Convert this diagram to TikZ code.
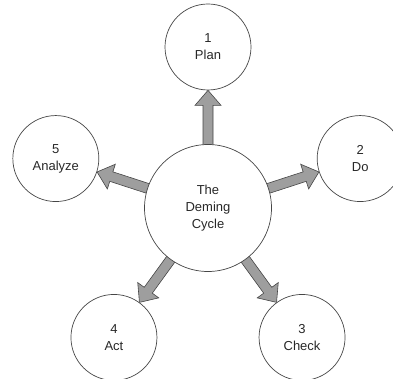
\documentclass[tikz,border=0pt]{standalone}
\usepackage{fontspec}
\setmainfont{Liberation Sans}
\usetikzlibrary{calc,backgrounds}
\definecolor{arrowgray}{RGB}{158,158,158}
\definecolor{linegray}{RGB}{70,70,70}
\definecolor{textgray}{RGB}{40,40,40}
\tikzset{
  bigcircle/.style={circle, draw=linegray, line width=0.7pt, fill=white, minimum size=127, inner sep=0pt, align=center, text=textgray, font=\fontsize{13}{17}\selectfont},
  smallcircle/.style={circle, draw=linegray, line width=0.7pt, fill=white, minimum size=86, inner sep=0pt, align=center, text=textgray, font=\fontsize{13}{17}\selectfont},
  fatarrowstyle/.style={draw=linegray, line width=0.6pt, fill=arrowgray, line join=miter}
}
\newcommand\fatarrow[4]{%
  \draw[fatarrowstyle]
    ($(#1.#3)+(#3-90:5)+(#3:-4)$) --
    ($(#2.#4)+(#3+180:15)+(#3-90:5)$) --
    ($(#2.#4)+(#3+180:15)+(#3-90:13)$) --
    (#2.#4) --
    ($(#2.#4)+(#3+180:15)+(#3+90:13)$) --
    ($(#2.#4)+(#3+180:15)+(#3+90:5)$) --
    ($(#1.#3)+(#3+90:5)+(#3:-4)$) -- cycle;}
\begin{document}
\begin{tikzpicture}[x=1pt,y=1pt]
\useasboundingbox (0,0) rectangle (393,378);
\clip (0,0) rectangle (393,378);
\node[bigcircle] (c) at (208,170) {The\\Deming\\Cycle};
\node[smallcircle] (plan) at ($(c)+(90:161)$) {1\\Plan};
\node[smallcircle] (do) at ($(c)+(18:160)$) {2\\Do};
\node[smallcircle] (check) at ($(c)+(-54:160)$) {3\\Check};
\node[smallcircle] (act) at ($(c)+(234:160)$) {4\\Act};
\node[smallcircle] (analyze) at ($(c)+(162:160)$) {5\\Analyze};
\begin{pgfonlayer}{background}
\fatarrow{c}{plan}{90}{270}
\fatarrow{c}{do}{18}{198}
\fatarrow{c}{check}{-54}{126}
\fatarrow{c}{act}{234}{54}
\fatarrow{c}{analyze}{162}{342}
\end{pgfonlayer}
\end{tikzpicture}
\end{document}
